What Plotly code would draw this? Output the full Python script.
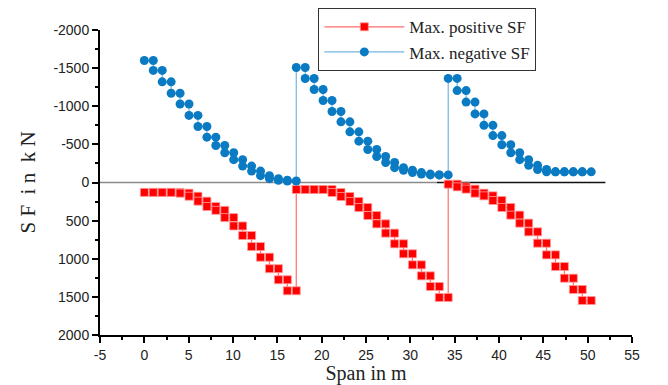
import plotly.graph_objects as go

# ---- data ----
span_start_idx = [0, 17, 34]          # index of first station of each span
x_step_m = 1.008                       # station spacing (m)

pos_sf_span1 = [130, 130, 130, 130, 140, 180, 245, 315, 365, 460, 570, 695, 840, 980, 1130, 1275, 1420]
pos_sf_span2 = [92, 92, 92, 92, 131, 184, 249, 328, 433, 542, 664, 804, 935, 1080, 1224, 1364, 1508]
pos_sf_span3 = [22, 57, 87, 140, 175, 236, 328, 428, 533, 647, 796, 949, 1102, 1255, 1403, 1548]

neg_sf_span1 = [-1600, -1470, -1320, -1170, -1030, -880, -735, -595, -485, -390, -300, -215, -150, -90, -50, -30, -20]
neg_sf_span2 = [-1508, -1364, -1220, -1075, -931, -796, -664, -542, -433, -341, -262, -195, -160, -130, -110, -100, -100]
neg_sf_span3 = [-1365, -1205, -1055, -900, -750, -615, -495, -390, -300, -225, -170, -140, -140, -140, -140, -140]

x_tick_vals = [-5, 0, 5, 10, 15, 20, 25, 30, 35, 40, 45, 50, 55]
x_tick_text = ["-5", "0", "5", "10", "15", "20", "25", "30", "35", "40", "45", "50", "55"]
y_tick_vals = [-2000, -1500, -1000, -500, 0, 500, 1000, 1500, 2000]
y_tick_text = ["-2000", "-1500", "-1000", "-500", "0", "500", "1000", "1500", "2000"]


def staircase(spans):
    xs, ys = [], []
    for start, steps in zip(span_start_idx, spans):
        for k, v in enumerate(steps):
            xs += [(start + k) * x_step_m, (start + k + 1) * x_step_m]
            ys += [v, v]
    return xs, ys


px, py = staircase([pos_sf_span1, pos_sf_span2, pos_sf_span3])
nx, ny = staircase([neg_sf_span1, neg_sf_span2, neg_sf_span3])

fig = go.Figure()
fig.add_trace(go.Scatter(
    x=px, y=py, mode="lines+markers", name="Max. positive SF",
    line=dict(color="rgba(255,60,60,0.75)", width=1.2),
    marker=dict(symbol="square", size=8, color="#ff0000",
                line=dict(color="#ff9a9a", width=0.8)),
))
fig.add_trace(go.Scatter(
    x=nx, y=ny, mode="lines+markers", name="Max. negative SF",
    line=dict(color="#74b6e0", width=1.2),
    marker=dict(symbol="circle", size=9, color="#0a7bc2",
                line=dict(width=0)),
))

# zero reference lines
fig.add_shape(type="line", xref="x", yref="y", x0=-5, x1=33, y0=0, y1=0,
              line=dict(color="#8a8a8a", width=1.6), layer="below")
fig.add_shape(type="line", xref="x", yref="y", x0=33, x1=52, y0=0, y1=0,
              line=dict(color="#111111", width=1.6), layer="below")

tick_font = dict(family="Liberation Sans, Arial, sans-serif", size=14, color="#222")
serif = "Liberation Serif, Times New Roman, serif"

# the page body adds an 8 px offset, so the figure is 8 px smaller in each direction
fig.update_layout(
    width=660, height=377,
    margin=dict(l=92, r=36, t=22, b=50, autoexpand=False),
    paper_bgcolor="white", plot_bgcolor="white",
    showlegend=True,
    legend=dict(
        x=0.41, y=1.072, xanchor="left", yanchor="top",
        bordercolor="#333", borderwidth=1.2, bgcolor="white",
        font=dict(family=serif, size=17, color="#222"),
        tracegroupgap=0, itemwidth=80,
    ),
    xaxis=dict(
        range=[-5, 55], showgrid=False, zeroline=False, automargin=False,
        showline=True, linecolor="black", linewidth=2,
        ticks="outside", ticklen=6, tickwidth=1.5, tickcolor="black",
        tickvals=x_tick_vals, ticktext=x_tick_text, tickfont=tick_font,
        minor=dict(ticks="outside", ticklen=3, tickwidth=1.5, tickcolor="black", dtick=2.5,
                   showgrid=False),
        title=dict(text="Span in m", font=dict(family=serif, size=20, color="#222"), standoff=13),
    ),
    yaxis=dict(
        range=[2000, -2000], showgrid=False, zeroline=False, automargin=False,
        showline=True, linecolor="black", linewidth=2,
        ticks="outside", ticklen=6, tickwidth=1.5, tickcolor="black",
        tickvals=y_tick_vals, ticktext=y_tick_text, tickfont=tick_font,
        minor=dict(ticks="outside", ticklen=3, tickwidth=1.5, tickcolor="black", dtick=250,
                   showgrid=False),
        title=dict(text="S F  i n  k N", font=dict(family=serif, size=21, color="#222"), standoff=12),
    ),
)

fig.write_html("out.html")
